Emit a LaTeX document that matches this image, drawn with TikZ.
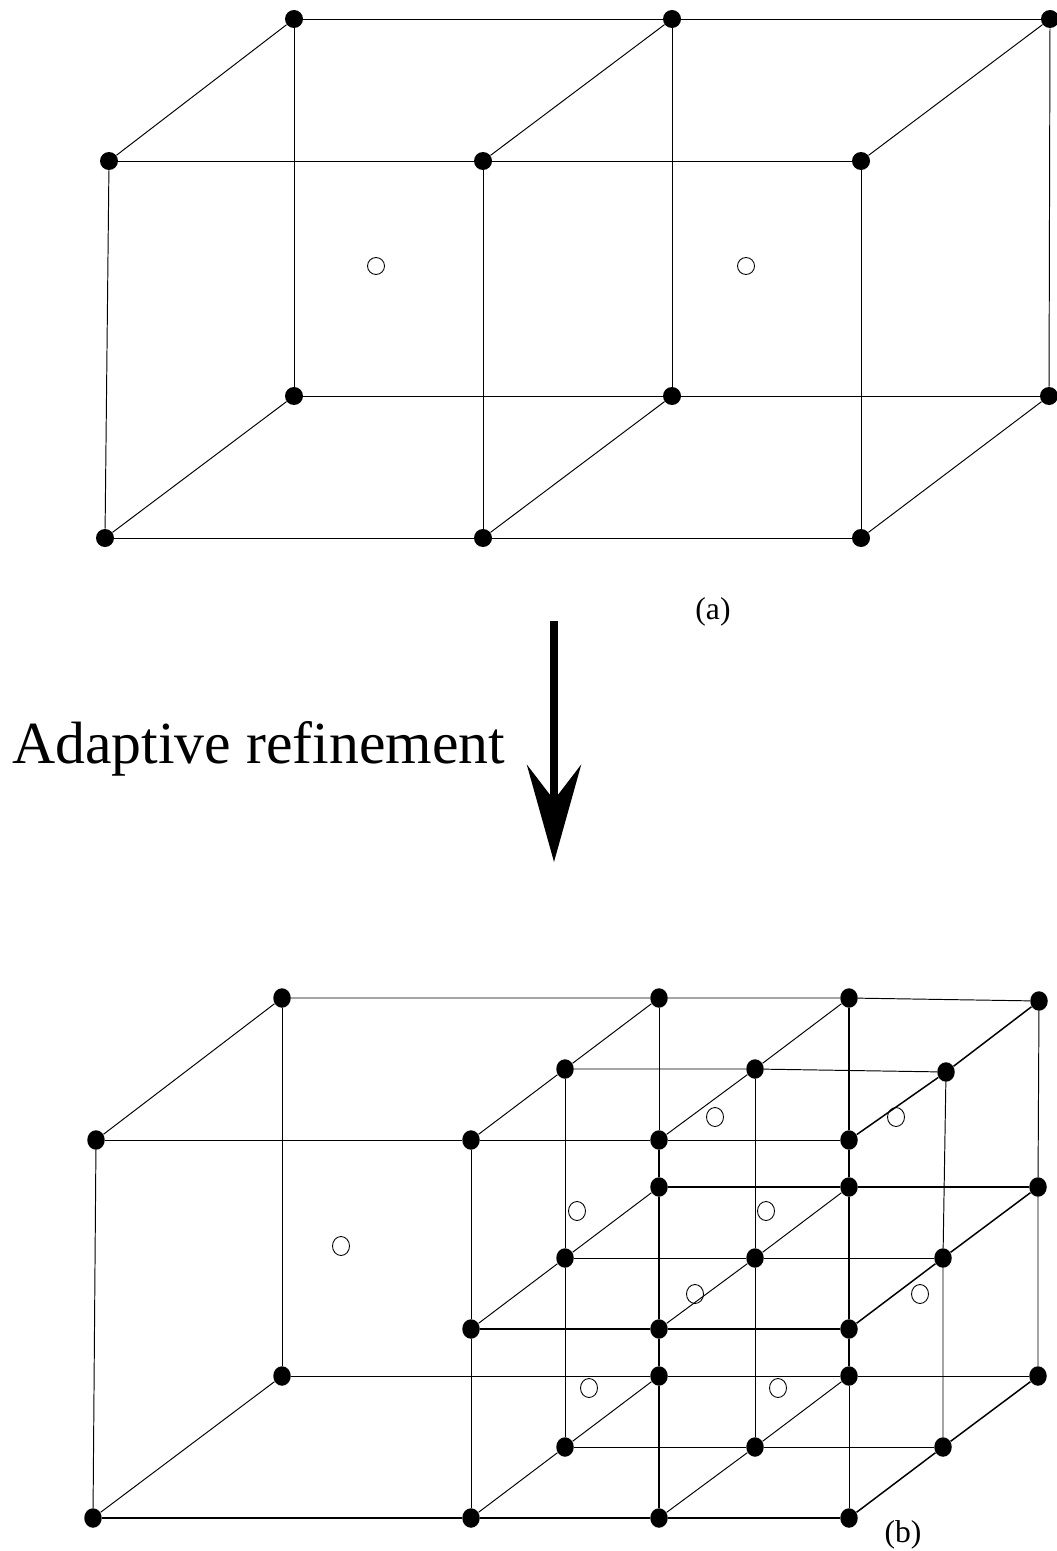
\documentclass[tikz,border=0pt]{standalone}
\usepackage{fontspec}
\setmainfont{Liberation Serif}
\usetikzlibrary{arrows.meta,shapes.geometric}

\begin{document}
\begin{tikzpicture}[
    x=0.02cm, y=-0.02cm,
    edge/.style={line width=0.55pt},
    heavy/.style={line width=0.85pt},
    vertex/.style={circle, fill=black, inner sep=0pt, minimum size=0.36cm},
    hollow/.style={circle, draw, line width=0.5pt, inner sep=0pt, minimum size=0.34cm},
    vertexb/.style={ellipse, fill=black, inner sep=0pt, minimum width=0.35cm, minimum height=0.39cm},
    hollowb/.style={ellipse, draw, line width=0.5pt, inner sep=0pt, minimum width=0.34cm, minimum height=0.38cm},
    caption/.style={font=\fontsize{18}{22}\selectfont},
    bigarrow/.style={-{Stealth[length=1.94cm, width=1.08cm, inset=0.7cm]}, line width=5pt}
  ]
    \useasboundingbox (0,0) rectangle (1056,1551);

    % (a) two cells
    \node[vertex] (ab1) at (294,19) {};
    \node[vertex] (ab2) at (672,19) {};
    \node[vertex] (ab3) at (1050,19) {};
    \node[vertex] (af1) at (109,161) {};
    \node[vertex] (af2) at (483,161) {};
    \node[vertex] (af3) at (861,161) {};
    \node[vertex] (cb1) at (294,396) {};
    \node[vertex] (cb2) at (672,396) {};
    \node[vertex] (cb3) at (1049,396) {};
    \node[vertex] (cf1) at (105,538) {};
    \node[vertex] (cf2) at (483,538) {};
    \node[vertex] (cf3) at (861,538) {};
    \node[hollow] (amid1) at (376,266) {};
    \node[hollow] (amid2) at (746,266) {};

    \draw[edge] (ab1) -- (ab2) -- (ab3);
    \draw[edge] (af1) -- (af2) -- (af3);
    \draw[edge] (cb1) -- (cb2) -- (cb3);
    \draw[edge] (cf1) -- (cf2) -- (cf3);
    \draw[edge] (ab1) -- (af1);
    \draw[edge] (ab2) -- (af2);
    \draw[edge] (ab3) -- (af3);
    \draw[edge] (cb1) -- (cf1);
    \draw[edge] (cb2) -- (cf2);
    \draw[edge] (cb3) -- (cf3);
    \draw[edge] (ab1) -- (cb1);
    \draw[edge] (ab2) -- (cb2);
    \draw[edge] (ab3) -- (cb3);
    \draw[edge] (af1) -- (cf1);
    \draw[edge] (af2) -- (cf2);
    \draw[edge] (af3) -- (cf3);

    \node[caption] (labela) at (713,612) {(a)};

    % refinement arrow
    \coordinate (arrowtop) at (554,621);
    \coordinate (arrowtip) at (554,862);
    \draw[bigarrow] (arrowtop) -- (arrowtip);
    \node[font=\fontsize{34}{40}\selectfont, anchor=base west, inner sep=0pt] (refine) at (12,763) {Adaptive refinement};

    % (b) refined cell: rows from back to front
    \node[vertexb] (t1) at (282,998) {};
    \node[vertexb] (t2) at (659,998) {};
    \node[vertexb] (t3) at (849,998) {};
    \node[vertexb] (t4) at (1039,1001) {};
    \node[vertexb] (u1) at (565,1069) {};
    \node[vertexb] (u2) at (755,1069) {};
    \node[vertexb] (u3) at (946,1072) {};
    \node[vertexb] (v0) at (96,1140) {};
    \node[vertexb] (v1) at (471,1140) {};
    \node[vertexb] (v2) at (659,1140) {};
    \node[vertexb] (v3) at (849,1140) {};
    \node[vertexb] (w2) at (659,1187) {};
    \node[vertexb] (w3) at (849,1187) {};
    \node[vertexb] (w4) at (1038,1187) {};
    \node[vertexb] (x1) at (565,1258) {};
    \node[vertexb] (x2) at (755,1258) {};
    \node[vertexb] (x3) at (943,1258) {};
    \node[vertexb] (y1) at (471,1329) {};
    \node[vertexb] (y2) at (659,1329) {};
    \node[vertexb] (y3) at (849,1329) {};
    \node[vertexb] (z1) at (282,1376) {};
    \node[vertexb] (z2) at (659,1376) {};
    \node[vertexb] (z3) at (849,1376) {};
    \node[vertexb] (z4) at (1038,1376) {};
    \node[vertexb] (p1) at (565,1447) {};
    \node[vertexb] (p2) at (755,1447) {};
    \node[vertexb] (p3) at (943,1447) {};
    \node[vertexb] (q0) at (93,1518) {};
    \node[vertexb] (q1) at (471,1518) {};
    \node[vertexb] (q2) at (659,1518) {};
    \node[vertexb] (q3) at (849,1518) {};

    \node[hollowb] (bmid0) at (341,1246) {};
    \node[hollowb] (bmid1) at (715,1117) {};
    \node[hollowb] (bmid2) at (896,1117) {};
    \node[hollowb] (bmid3) at (577,1211) {};
    \node[hollowb] (bmid4) at (766,1211) {};
    \node[hollowb] (bmid5) at (695,1294) {};
    \node[hollowb] (bmid6) at (920,1294) {};
    \node[hollowb] (bmid7) at (589,1388) {};
    \node[hollowb] (bmid8) at (778,1388) {};

    % horizontal
    \draw[edge] (t1) -- (t2) -- (t3) -- (t4);
    \draw[edge] (u1) -- (u2) -- (u3);
    \draw[edge] (v0) -- (v1) -- (v2) -- (v3);
    \draw[heavy] (w2) -- (w3) -- (w4);
    \draw[edge] (x1) -- (x2) -- (x3);
    \draw[heavy] (y1) -- (y2) -- (y3);
    \draw[edge] (z1) -- (z2) -- (z3) -- (z4);
    \draw[edge] (p1) -- (p2) -- (p3);
    \draw[heavy] (q0) -- (q1) -- (q2) -- (q3);

    % vertical
    \draw[edge] (v0) -- (q0);
    \draw[edge] (t1) -- (z1);
    \draw[edge] (v1) -- (y1) -- (q1);
    \draw[edge] (u1) -- (x1) -- (p1);
    \draw[edge] (t2) -- (v2);
    \draw[heavy] (v2) -- (w2) -- (y2) -- (z2) -- (q2);
    \draw[edge] (u2) -- (x2) -- (p2);
    \draw[heavy] (t3) -- (v3) -- (w3) -- (y3) -- (z3);
    \draw[edge] (z3) -- (q3);
    \draw[edge] (u3) -- (x3) -- (p3);
    \draw[edge] (t4) -- (w4) -- (z4);

    % depth
    \draw[edge] (t1) -- (v0);
    \draw[edge] (z1) -- (q0);
    \draw[edge] (t2) -- (u1) -- (v1);
    \draw[edge] (t3) -- (u2) -- (v2);
    \draw[heavy] (t4) -- (u3) -- (v3);
    \draw[edge] (w2) -- (x1) -- (y1);
    \draw[edge] (w3) -- (x2) -- (y2);
    \draw[heavy] (w4) -- (x3) -- (y3);
    \draw[edge] (z2) -- (p1) -- (q1);
    \draw[edge] (z3) -- (p2) -- (q2);
    \draw[heavy] (z4) -- (p3) -- (q3);

    \node[caption] (labelb) at (903,1535) {(b)};
  \end{tikzpicture}
\end{document}
